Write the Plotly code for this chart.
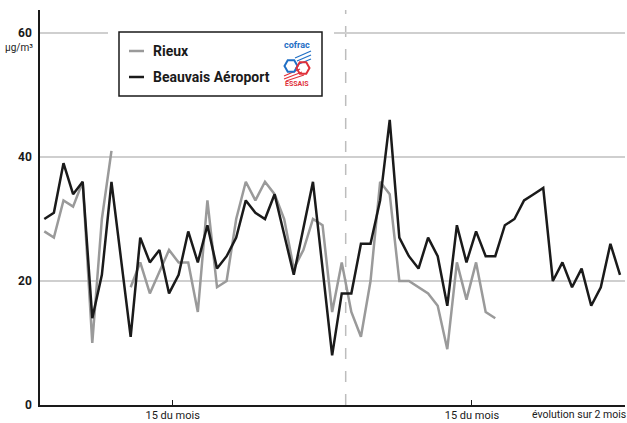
import plotly.graph_objects as go

# jours (0 = premier jour de la période de 2 mois)
jours = list(range(61))

beauvais = [30, 31, 39, 34, 36, 14, 21, 36, 23.5, 11,
            27, 23, 25, 18, 21, 28, 23, 29, 22, 24,
            27, 33, 31, 30, 34, 27.5, 21, 28.5, 36, 22,
            8, 18, 18, 26, 26, 33, 46, 27, 24, 22,
            27, 24, 16, 29, 23, 28, 24, 24, 29, 30,
            33, 34, 35, 20, 23, 19, 22, 16, 19, 26,
            21]

rieux = [28, 27, 33, 32, 36, 10, 30, 41, None, 19,
         23, 18, 21.5, 25, 23, 23, 15, 33, 19, 20,
         30, 36, 33, 36, 34, 30, 22, 25, 30, 29,
         15, 23, 15, 11, 20, 36, 34, 20, 20, 19,
         18, 16, 9, 23, 17, 23, 15, 14]

tick_pos = [13.38, 44.57]
tick_txt = ['15 du mois', '15 du mois']
y_ticks = [0, 20, 40, 60]
separation = 31.41

FONT = 'Roboto, Liberation Sans, sans-serif'
W, H = 627, 423
L, R, T, B = 40, 625, 10, 405   # zone de tracé en pixels


def px(x):
    return (x - L) / (R - L)


def py(y):
    return (B - y) / (B - T)


fig = go.Figure()

fig.add_trace(go.Scatter(
    x=jours[:len(rieux)], y=rieux, mode='lines', name='Rieux',
    line=dict(color='#9a9a9a', width=2.5), connectgaps=False
))
fig.add_trace(go.Scatter(
    x=jours, y=beauvais, mode='lines', name='Beauvais Aéroport',
    line=dict(color='#1a1a1a', width=2.5)
))

shapes = []
# limite entre les deux mois
shapes.append(dict(type='line', xref='x', yref='paper', x0=separation, x1=separation,
                   y0=0, y1=1, line=dict(color='#bdbdbd', width=1.5, dash='11px,12px'),
                   layer='below'))
# masque blanc derrière la légende
shapes.append(dict(type='rect', xref='paper', yref='paper',
                   x0=px(108), x1=px(334), y0=py(100), y1=py(28),
                   fillcolor='white', line=dict(width=0), layer='above'))
# cadre de la légende
shapes.append(dict(type='rect', xref='paper', yref='paper',
                   x0=px(119), x1=px(322), y0=py(96), y1=py(32),
                   fillcolor='white', line=dict(color='#1a1a1a', width=1.5), layer='above'))
shapes.append(dict(type='line', xref='paper', yref='paper', x0=px(129), x1=px(144),
                   y0=py(51), y1=py(51), line=dict(color='#9a9a9a', width=2.5), layer='above'))
shapes.append(dict(type='line', xref='paper', yref='paper', x0=px(129), x1=px(144),
                   y0=py(77), y1=py(77), line=dict(color='#1a1a1a', width=2.5), layer='above'))


# logo cofrac (approximation)
def hexagone(cx, cy, r):
    pts = [(cx + r * c, cy + r * s) for c, s in
           [(1, 0), (0.5, 0.866), (-0.5, 0.866), (-1, 0), (-0.5, -0.866), (0.5, -0.866)]]
    return 'M ' + ' L '.join(f'{px(a):.5f},{py(b):.5f}' for a, b in pts) + ' Z'


for x0, y0, x1, y1 in [(295, 58, 311, 51), (297, 61, 311, 55), (299, 64, 311, 59)]:
    shapes.append(dict(type='line', xref='paper', yref='paper', x0=px(x0), x1=px(x1),
                       y0=py(y0), y1=py(y1), line=dict(color='#1f6fc5', width=1.2), layer='above'))
for x0, y0, x1, y1 in [(284, 76, 300, 69), (284, 79, 302, 72), (286, 81, 304, 75)]:
    shapes.append(dict(type='line', xref='paper', yref='paper', x0=px(x0), x1=px(x1),
                       y0=py(y0), y1=py(y1), line=dict(color='#e0303a', width=1.2), layer='above'))
shapes.append(dict(type='path', xref='paper', yref='paper', path=hexagone(291, 66, 6.5),
                   line=dict(color='#1f6fc5', width=2), layer='above'))
shapes.append(dict(type='path', xref='paper', yref='paper', path=hexagone(303, 68, 6.5),
                   line=dict(color='#e0303a', width=2), layer='above'))

annotations = [
    dict(text='<b>Rieux</b>', x=px(151), y=py(51), xref='paper', yref='paper',
         xanchor='left', yanchor='middle', showarrow=False,
         font=dict(family=FONT, size=14, color='#1a1a1a')),
    dict(text='<b>Beauvais Aéroport</b>', x=px(151), y=py(77), xref='paper', yref='paper',
         xanchor='left', yanchor='middle', showarrow=False,
         font=dict(family=FONT, size=14, color='#1a1a1a')),
    dict(text='<b>cofrac</b>', x=px(297), y=py(45), xref='paper', yref='paper',
         xanchor='center', yanchor='middle', showarrow=False,
         font=dict(family=FONT, size=9, color='#1f6fc5')),
    dict(text='<b>ESSAIS</b>', x=px(297), y=py(84), xref='paper', yref='paper',
         xanchor='center', yanchor='middle', showarrow=False,
         font=dict(family=FONT, size=7, color='#e0303a')),
    dict(text='µg/m³', x=px(35), y=py(47), xref='paper', yref='paper',
         xanchor='right', yanchor='middle', showarrow=False,
         font=dict(family=FONT, size=10, color='#1a1a1a')),
    dict(text='évolution sur 2 mois', x=px(530), y=py(415), xref='paper', yref='paper',
         xanchor='left', yanchor='middle', showarrow=False,
         font=dict(family=FONT, size=10.5, color='#1a1a1a')),
]

fig.update_layout(
    width=W, height=H,
    margin=dict(l=L, r=W - R, t=T, b=H - B),
    paper_bgcolor='white', plot_bgcolor='white',
    showlegend=False,
    shapes=shapes,
    annotations=annotations,
    font=dict(family=FONT, size=11, color='#1a1a1a'),
)

fig.update_xaxes(
    range=[(L - 44.3) / 9.595, (R - 44.3) / 9.595],
    automargin=False,
    showgrid=False, zeroline=False,
    showline=True, linecolor='#1a1a1a', linewidth=1.5,
    tickvals=tick_pos, ticktext=tick_txt,
    ticks='inside', ticklen=5, tickwidth=1.2, tickcolor='#1a1a1a',
    ticklabelstandoff=-1,
    tickfont=dict(family=FONT, size=11, color='#1a1a1a'),
)

fig.update_yaxes(
    range=[0, (B - T) / 6.2],
    automargin=False,
    showgrid=True, gridcolor='#cfcfcf', gridwidth=1.5,
    zeroline=False,
    showline=True, linecolor='#1a1a1a', linewidth=1.5,
    tickvals=y_ticks, ticktext=[f'<b>{v}</b>' for v in y_ticks],
    ticks='', ticklabelstandoff=4,
    tickfont=dict(family=FONT, size=12, color='#1a1a1a'),
)

# la page par défaut ajoute une marge de 8 px autour du graphique
fig.write_html('out.html', config={'displayModeBar': False},
               post_script="document.body.style.margin='0';")
